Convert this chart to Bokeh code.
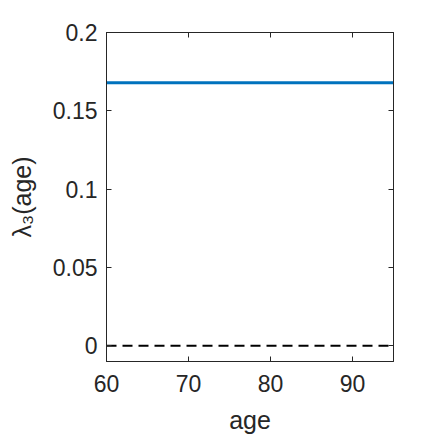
from bokeh.plotting import figure
from bokeh.models import LinearAxis, Range1d, FixedTicker
from bokeh.embed import file_html
from bokeh.resources import INLINE

age = [60, 95]
lambda3 = [0.168, 0.168]
zero_line = [0.0, 0.0]
x_ticks = [60, 70, 80, 90]
y_ticks = [0, 0.05, 0.1, 0.15, 0.2]
y_tick_labels = {0: "0", 0.05: "0.05", 0.1: "0.1", 0.15: "0.15", 0.2: "0.2"}

FONT = "Liberation Sans"
TXT = "#262626"
AX = "#262626"

p = figure(width=436, height=436, output_backend="svg", toolbar_location=None,
           x_range=Range1d(60, 95), y_range=Range1d(-0.01, 0.2),
           min_border_left=106, min_border_top=32, min_border_right=43, min_border_bottom=75)
p.background_fill_color = "white"
p.border_fill_color = "white"
p.outline_line_color = AX
p.outline_line_width = 1
p.grid.visible = False

p.line(age, zero_line, line_color="black", line_width=2, line_dash="10 6")
p.line(age, lambda3, line_color="#0072BD", line_width=3)

for ax in (p.xaxis[0], p.yaxis[0]):
    ax.major_tick_in = 5
    ax.major_tick_out = 0
    ax.minor_tick_line_color = None
    ax.axis_line_color = AX
    ax.major_tick_line_color = AX
    ax.major_label_text_font = FONT
    ax.major_label_text_font_size = "23px"
    ax.major_label_text_color = TXT
    ax.axis_label_text_font = FONT
    ax.axis_label_text_font_size = "25px"
    ax.axis_label_text_font_style = "normal"
    ax.axis_label_text_color = TXT

p.xaxis[0].ticker = FixedTicker(ticks=x_ticks)
p.yaxis[0].ticker = FixedTicker(ticks=y_ticks)
p.yaxis[0].major_label_overrides = y_tick_labels
p.xaxis[0].axis_label = "age"
p.yaxis[0].axis_label = "λ₃(age)"
p.xaxis[0].major_label_standoff = 13
p.yaxis[0].major_label_standoff = 9
p.xaxis[0].axis_label_standoff = 11
p.yaxis[0].axis_label_standoff = 14

for side, ticks in (("right", y_ticks), ("above", x_ticks)):
    a = LinearAxis(ticker=FixedTicker(ticks=ticks))
    a.major_tick_in = 5
    a.major_tick_out = 0
    a.minor_tick_line_color = None
    a.axis_line_color = AX
    a.major_tick_line_color = AX
    a.major_label_text_color = None
    a.major_label_text_font_size = "0px"
    a.major_label_standoff = 0
    p.add_layout(a, side)

open("out.html", "w").write(file_html(p, INLINE))
